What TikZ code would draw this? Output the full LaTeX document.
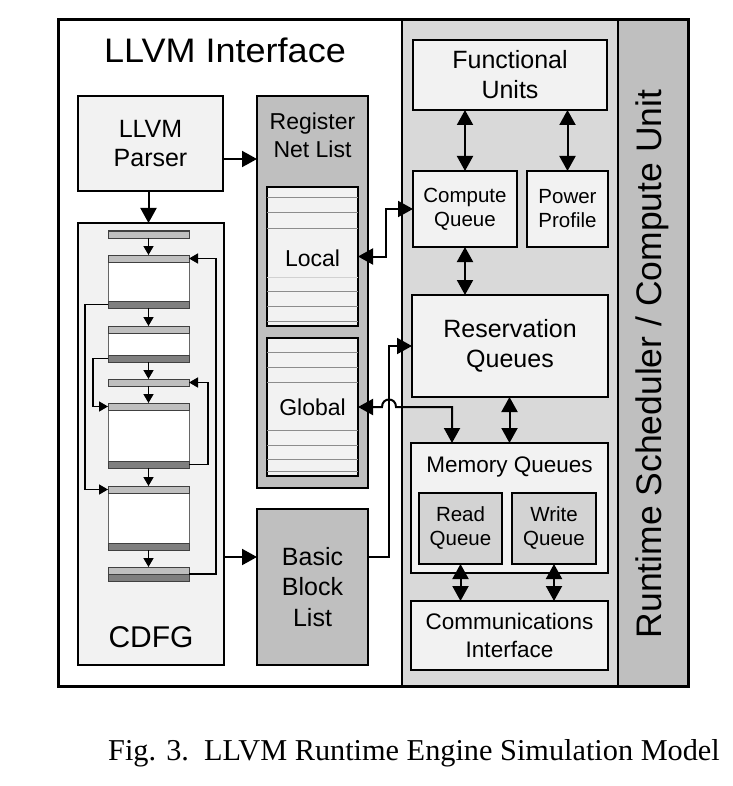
\documentclass[tikz,border=0pt]{standalone}
\usepackage{fontspec}
\setmainfont{Liberation Sans}
\newfontfamily\capfont{Liberation Serif}
\usetikzlibrary{arrows.meta}
\definecolor{boxlight}{HTML}{F2F2F2}
\definecolor{rightgray}{HTML}{D9D9D9}
\definecolor{midgray}{HTML}{BFBFBF}
\definecolor{darkbar}{HTML}{7F7F7F}
\definecolor{qgray}{HTML}{D3D3D3}
\definecolor{rulegray}{HTML}{8C8C8C}
\newcommand\mybox[7]{\node[#6, minimum width={(#4-#2)*1pt}, minimum height={(#5-#3)*1pt}] (#1) at ({(#2+#4)/2},{(#3+#5)/2}) {#7};}
\newcommand\fs[2]{\fontsize{#1}{#2}\selectfont}
\tikzset{
  frame/.style={draw, line width=2pt, inner sep=0pt, outer sep=0pt, align=center},
  light/.style={frame, fill=boxlight},
  mid/.style={frame, fill=midgray},
  lbar/.style={draw=black!75, line width=1pt, fill=midgray, inner sep=0pt, outer sep=0pt},
  dbar/.style={draw=black!75, line width=1pt, fill=darkbar, inner sep=0pt, outer sep=0pt},
  wbody/.style={draw=black!60, line width=1pt, fill=white, inner sep=0pt, outer sep=0pt},
  rulel/.style={draw=rulegray, line width=1pt},
  arr/.style={line width=2pt, -{Triangle[length=15pt,width=16pt]}},
  dbl/.style={line width=2pt, {Triangle[length=15pt,width=16pt]}-{Triangle[length=15pt,width=16pt]}},
  sarr/.style={line width=1.5pt, -{Triangle[length=9pt,width=10pt]}},
}
\begin{document}
\begin{tikzpicture}[x=1pt,y=-1pt]
\useasboundingbox (0,0) rectangle (732,786);
\fill[white] (0,0) rectangle (732,786);

% right regions
\mybox{rt}{402}{20}{618}{686}{frame,fill=rightgray}{}
\mybox{strip}{618}{20}{688}{686}{frame,fill=midgray}{}
\node[rotate=90, font=\fs{35.5}{40}] (striplbl) at (652,364) {Runtime Scheduler / Compute Unit};
\mybox{outer}{58}{20}{688}{686}{draw, line width=3pt, inner sep=0pt}{}

% left: LLVM interface
\node[font=\fs{34}{40}, xscale=1.06] (title) at (225,50) {LLVM Interface};
\mybox{parser}{78}{96}{223}{191}{light, font=\fs{25}{29.5}}{LLVM\\Parser}
\mybox{reg}{257}{96}{368}{488}{mid}{}
\node[align=center, font=\fs{23}{28}, inner sep=0pt] (regl) at (312.5,135) {Register\\Net List};
\mybox{local}{267}{187}{358}{326}{light}{}
\foreach \yy in {198,213,229,291,306,321} \draw[rulel] (local.west |- 0,\yy) -- (local.east |- 0,\yy);
\draw[draw=rulegray!40, line width=0.8pt] (local.west |- 0,277) -- (local.east |- 0,277);
\node[font=\fs{23}{26}] (locall) at (312.5,258) {Local};
\mybox{global}{267}{338}{358}{476}{light}{}
\foreach \yy in {352,367,382,430,445,459,471} \draw[rulel] (global.west |- 0,\yy) -- (global.east |- 0,\yy);
\node[font=\fs{23}{26}] (globall) at (312.5,407) {Global};
\mybox{bbl}{257}{509}{368}{665}{mid, font=\fs{25}{30.5}}{Basic\\Block\\List}

% CDFG
\mybox{cdfg}{78}{223}{224}{665}{light}{}
\node[font=\fs{30}{34}] (cdfgl) at (151,637) {CDFG};
\mybox{b0}{108}{231}{189}{238}{lbar}{}
\mybox{b1w}{108}{262}{189}{301}{wbody}{}
\mybox{b1t}{108}{255}{189}{262}{lbar}{}
\mybox{b1b}{108}{301}{189}{308}{dbar}{}
\mybox{b2w}{108}{333}{189}{355}{wbody}{}
\mybox{b2t}{108}{326}{189}{333}{lbar}{}
\mybox{b2b}{108}{355}{189}{362}{dbar}{}
\mybox{b3}{108}{379}{189}{386}{lbar}{}
\mybox{b4w}{108}{410}{189}{461}{wbody}{}
\mybox{b4t}{108}{403}{189}{410}{lbar}{}
\mybox{b4b}{108}{461}{189}{468}{dbar}{}
\mybox{b5w}{108}{493}{189}{543}{wbody}{}
\mybox{b5t}{108}{486}{189}{493}{lbar}{}
\mybox{b5b}{108}{543}{189}{550}{dbar}{}
\mybox{b6t}{108}{567}{189}{574}{lbar}{}
\mybox{b6b}{108}{574}{189}{581}{dbar}{}

\draw[sarr] (b0.south) -- (b1t.north);
\draw[sarr] (b1b.south) -- (b2t.north);
\draw[sarr] (b2b.south) -- (b3.north);
\draw[sarr] (b3.south) -- (b4t.north);
\draw[sarr] (b4b.south) -- (b5t.north);
\draw[sarr] (b5b.south) -- (b6t.north);
\draw[sarr] (b1b.west) -- (85,304.5) |- (b5t.west);
\draw[sarr] (b2b.west) -- (93,358.5) |- (b4t.west);
\draw[sarr] (b4b.east) -- (208,464.5) |- (b3.east);
\draw[sarr] (b6t.south east) -- (216,574) |- (b1t.east);

\draw[arr] (parser.south -| b0.north) -- (cdfg.north -| b0.north);
\draw[arr] (parser.east |- 0,159) -- (reg.west |- 0,159);
\draw[arr] (cdfg.east |- 0,557) -- (bbl.west |- 0,557);

% right: compute unit
\mybox{fu}{413}{40}{607}{110}{light, font=\fs{25}{30}}{Functional\\Units}
\mybox{cq}{413}{171}{517}{247}{light, font=\fs{20.5}{24}}{Compute\\Queue}
\mybox{pp}{527}{171}{608}{247}{light, font=\fs{20.5}{24}}{Power\\Profile}
\mybox{res}{412}{295}{608}{397}{light, font=\fs{25}{30}}{Reservation\\Queues}
\mybox{mq}{411}{443}{608}{573}{light}{}
\node[font=\fs{22.5}{26}] (mql) at (509.5,467) {Memory Queues};
\mybox{rq}{419}{493}{502}{564}{frame, fill=qgray, font=\fs{20.5}{24}}{Read\\Queue}
\mybox{wq}{512}{493}{596}{564}{frame, fill=qgray, font=\fs{20.5}{24}}{Write\\Queue}
\mybox{comm}{411}{601}{608}{670}{light, font=\fs{22.5}{28}}{Communications\\Interface}

\draw[dbl] (fu.south -| cq.north) -- (cq.north);
\draw[dbl] (fu.south -| pp.north) -- (pp.north);
\draw[dbl] (cq.south) -- (res.north -| cq.south);
\draw[dbl] (res.south -| mq.north) -- (mq.north);
\draw[dbl] (rq.south) -- (comm.north -| rq.south);
\draw[dbl] (wq.south) -- (comm.north -| wq.south);

% cross connectors
\draw[dbl] (local.east) -- (386,256.5) |- (cq.west);
\coordinate (hopL) at (382,407);
\coordinate (hopR) at (396,407);
\coordinate (mqin) at (452,443);
\draw[dbl] (global.east) -- (hopL) .. controls (382,397) and (396,397) .. (hopR) -| (mqin);
\draw[arr] (bbl.east |- 0,557) -- (389,557) |- (res.west);

% caption
\node[font=\capfont\fs{30.3}{36}, anchor=base west, inner sep=0pt] (cap) at (108,760) {Fig. 3.\ \ LLVM Runtime Engine Simulation Model};
\end{tikzpicture}
\end{document}
